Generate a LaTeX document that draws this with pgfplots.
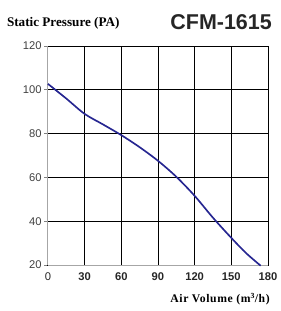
\documentclass[border=0pt]{standalone}
\usepackage{fontspec}
\setmainfont{Liberation Serif}
\setsansfont{Liberation Sans}
\usepackage{pgfplots}
\pgfplotsset{compat=1.18}
\definecolor{curve}{RGB}{38,38,145}
\begin{document}
\begin{tikzpicture}
\begin{axis}[
  scale only axis,
  width=225bp, height=224bp,
  xmin=0, xmax=180, ymin=20, ymax=120,
  xtick={0,30,...,180}, ytick={20,40,...,120},
  xticklabels={{\mdseries 0},30,60,90,120,150,180},
  grid=major,
  major grid style={black, line width=0.9pt},
  axis line style={black, line width=0.9pt},
  axis x line*=box, axis y line*=box,
  tick style={gray, line width=0.6pt},
  tick align=outside,
  xtick style={draw=none},
  ytick pos=left, xtick pos=bottom,
  major tick length=4bp,
  /pgf/number format/assume math mode=true,
  xticklabel style={font=\sffamily\bfseries\fontsize{11.5}{12}\selectfont, text=black!85, yshift=0bp},
  yticklabel style={font=\sffamily\fontsize{11.5}{12}\selectfont, text=black!75, xshift=1bp},
  xlabel={\addfontfeature{LetterSpace=5}Air Volume (m$^{\mathbf 3}$/h)},
  xlabel style={font=\bfseries\fontsize{12}{13}\selectfont, inner sep=0pt, at={(rel axis cs:1,0)}, anchor=east, yshift=-35bp, xshift=2bp},
  clip=false,
]
\draw[gray!70, line width=1pt] (rel axis cs:0,0) -- (rel axis cs:0,1);
\draw[gray!70, line width=1pt] (rel axis cs:0,0) -- (rel axis cs:1,0);
\addplot[curve, line width=1.7pt, smooth, tension=0.5] coordinates {
  (0,102.7) (15,96) (30,89) (45,84.2) (60,79.3) (75,73.8) (90,67.6) (105,60.3) (120,51.6) (135,41.6) (150,32.4) (162,25.5) (174,19.7)
};
\end{axis}
\node[anchor=west, inner sep=0pt, font=\bfseries\fontsize{13.5}{14}\selectfont] at (-42bp,247bp) {Static Pressure (PA)};
\node[anchor=east, inner sep=0pt, font=\sffamily\bfseries\fontsize{22}{23}\selectfont, text=black!85] at (229bp,248bp) {CFM-1615};
\pgfresetboundingbox
\useasboundingbox (-49bp,-47bp) rectangle (238bp,271bp);
\end{tikzpicture}
\end{document}
